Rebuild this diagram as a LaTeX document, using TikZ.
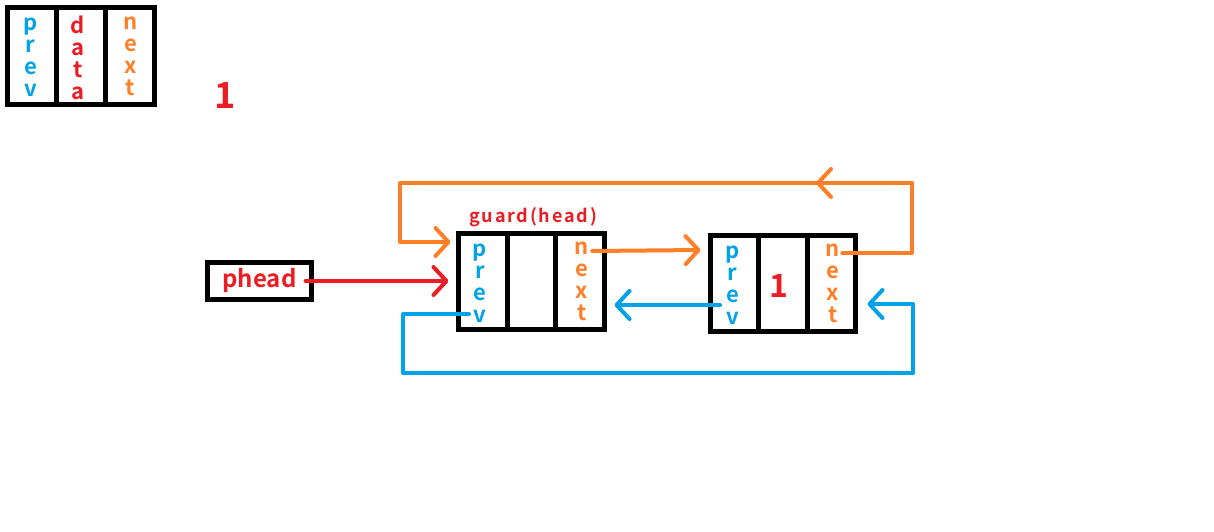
\documentclass[tikz,border=0pt]{standalone}
\usepackage{fontspec}
\setmainfont{Noto Sans CJK SC}[BoldFont={Noto Sans CJK SC Bold}]
\newfontfamily\spacedbold{Noto Sans CJK SC Bold}[LetterSpace=10]
\usetikzlibrary{arrows.meta}
\definecolor{cblue}{RGB}{0,162,232}
\definecolor{corange}{RGB}{255,127,39}
\definecolor{cred}{RGB}{237,28,36}
\tikzset{
  cell/.style={draw=black, line width=5pt, rectangle, inner sep=0pt, outer sep=0pt},
  vtext/.style={inner sep=0pt, align=center, font=\bfseries\fontsize{22}{22}\selectfont},
  conn/.style={line width=4pt, line cap=round, line join=round,
    -{Straight Barb[length=13pt,width=28pt,round]}},
  plain/.style={line width=4pt, line cap=round, line join=round},
}
\begin{document}
\begin{tikzpicture}[x=1pt,y=-1pt]
\useasboundingbox (0,0) rectangle (1214,532);
% legend
\node[cell, minimum width=49pt, minimum height=97pt] (lp) at (32,56) {};
\node[cell, minimum width=49pt, minimum height=97pt] (ld) at (81,56) {};
\node[cell, minimum width=49pt, minimum height=97pt] (ln) at (130,56) {};
\node[vtext, text=cblue] (lpt) at (30.5,57.5) {p\\r\\e\\v};
\node[vtext, text=cred] (ldt) at (78,57.5) {d\\a\\t\\a};
\node[vtext, text=corange] (lnt) at (130.5,56) {n\\e\\x\\t};
\node[text=cred, font=\bfseries\fontsize{36}{36}\selectfont, inner sep=0pt] (lone) at (225,96) {1};
% guard
\node[cell, minimum width=48.7pt, minimum height=96pt] (gp) at (482.8,281.5) {};
\node[cell, minimum width=48.7pt, minimum height=96pt] (gd) at (531.5,281.5) {};
\node[cell, minimum width=48.7pt, minimum height=96pt] (gn) at (580.2,281.5) {};
\node[vtext, text=cblue] (gpt) at (480,283) {p\\r\\e\\v};
\node[vtext, text=corange] (gnt) at (582,281) {n\\e\\x\\t};
\node[text=cred, font=\spacedbold\fontsize{18}{18}\selectfont, inner sep=0pt] (glabel) at (533,217) {guard(head)};
% node 1
\node[cell, minimum width=48.3pt, minimum height=96pt] (np) at (734.7,283.5) {};
\node[cell, minimum width=48.3pt, minimum height=96pt] (nd) at (783,283.5) {};
\node[cell, minimum width=48.3pt, minimum height=96pt] (nn) at (831.3,283.5) {};
\node[vtext, text=cblue] (npt) at (732.5,285) {p\\r\\e\\v};
\node[text=cred, font=\bfseries\fontsize{32}{32}\selectfont, inner sep=0pt] (ndt) at (778.5,286) {1};
\node[vtext, text=corange] (nnt) at (833,283.5) {n\\e\\x\\t};
% phead
\node[draw=black, line width=5pt, minimum width=104pt, minimum height=37pt, inner sep=0pt, outer sep=0pt,
  text=cred, font=\bfseries\fontsize{24}{24}\selectfont] (ph) at (259.5,281) {phead};
% red connector
\draw[conn, cred] ([xshift=-6pt]ph.east) -- ([xshift=-10pt,yshift=0.5pt]gp.west);
% orange: guard next -> node1 prev
\draw[conn, corange] ([xshift=12pt,yshift=30.5pt]gn.center) -- ([xshift=-10pt,yshift=33.5pt]np.west);
% orange: node1 next -> top -> guard prev
\coordinate (otop) at (912,183);
\coordinate (oleft) at (400,183);
\draw[plain, corange] ([xshift=11pt,yshift=30.5pt]nn.center) -| (otop) -- (820,183);
\draw[conn, corange] (otop) -- (816,183);
\draw[conn, corange] (820,183) -- (oleft) |- ([xshift=-8pt,yshift=39.5pt]gp.west);
% blue: node1 prev -> guard next
\draw[conn, cblue] ([xshift=-14.7pt,yshift=-21.5pt]np.center) -- ([xshift=10pt,yshift=-23.5pt]gn.east);
% blue: guard prev -> bottom -> node1 next
\coordinate (bleft) at (403,373);
\coordinate (bright) at (913,373);
\draw[conn, cblue] ([xshift=-13.8pt,yshift=-32.5pt]gp.center) -| (bleft) -- (bright) |- ([xshift=12pt,yshift=-20.5pt]nn.east);
\end{tikzpicture}
\end{document}
